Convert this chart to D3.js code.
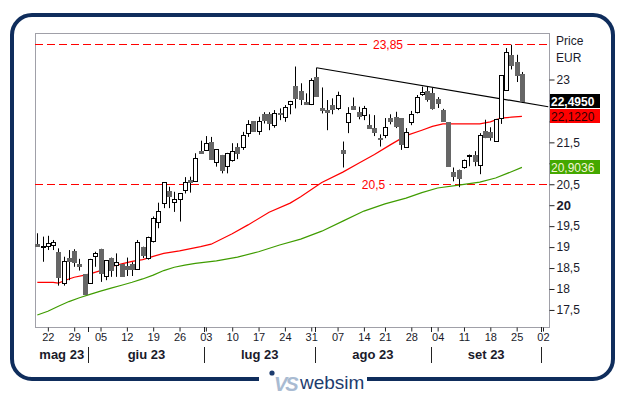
<!DOCTYPE html>
<html>
<head>
<meta charset="utf-8">
<script src="https://cdn.jsdelivr.net/npm/d3@7"></script>
<style>
body { margin: 0; background: #fff; }
text { font-family: "Liberation Sans", Arial, sans-serif; }
</style>
</head>
<body>
<div id="chart"></div>
<script>
// trading days (Borsa closed on 15 Aug)
var dates = ["05-18","05-19","05-22","05-23","05-24","05-25","05-26","05-29","05-30","05-31",
  "06-01","06-02","06-05","06-06","06-07","06-08","06-09","06-12","06-13","06-14","06-15","06-16",
  "06-19","06-20","06-21","06-22","06-23","06-26","06-27","06-28","06-29","06-30",
  "07-03","07-04","07-05","07-06","07-07","07-10","07-11","07-12","07-13","07-14",
  "07-17","07-18","07-19","07-20","07-21","07-24","07-25","07-26","07-27","07-28","07-31",
  "08-01","08-02","08-03","08-04","08-07","08-08","08-09","08-10","08-11","08-14","08-16","08-17","08-18",
  "08-21","08-22","08-23","08-24","08-25","08-28","08-29","08-30","08-31",
  "09-01","09-04","09-05","09-06","09-07","09-08","09-11","09-12","09-13","09-14","09-15",
  "09-18","09-19","09-20","09-21","09-22","09-25","09-26"];
var futureDates = ["09-27","09-28","09-29","10-02","10-03"];

var open = [19.07,19.02,19.01,19.03,18.89,18.14,18.75,18.91,18.60,18.35,
  18.14,18.79,18.96,18.32,18.73,18.57,18.59,18.55,18.60,18.49,19.01,18.72,
  19.13,19.61,20.06,20.34,20.08,20.14,20.38,20.60,20.56,21.29,
  21.32,21.52,21.01,21.20,20.94,21.08,21.40,21.40,21.72,22.01,
  21.77,22.17,22.17,21.90,22.21,22.11,22.41,22.84,22.73,22.47,22.41,
  23.07,22.32,22.27,22.39,22.31,21.32,21.97,22.37,22.23,22.15,21.91,21.85,21.61,
  21.69,22.07,22.11,22.07,21.40,21.99,22.23,22.67,22.72,
  22.68,22.53,22.28,21.98,20.79,20.85,20.93,21.17,21.19,20.97,21.78,
  21.74,21.54,22.08,22.76,23.59,23.42,23.13];
var high = [19.33,19.25,19.27,19.17,18.97,18.77,18.93,18.95,18.72,18.35,
  18.72,18.89,18.96,18.69,18.75,18.85,18.59,18.75,18.64,19.17,19.01,19.25,
  19.73,20.06,20.55,20.44,20.32,20.28,20.67,20.68,21.24,21.54,
  21.65,21.63,21.33,21.20,21.25,21.48,21.48,21.75,22.03,22.01,
  22.11,22.22,22.22,22.27,22.31,22.39,22.49,23.31,22.91,22.67,23.03,
  23.28,22.81,22.51,22.55,22.71,21.52,22.34,22.57,22.35,22.37,22.17,22.15,21.69,
  22.08,22.17,22.23,22.07,21.84,22.25,22.63,22.83,22.84,
  22.80,22.58,22.30,21.98,20.90,20.85,21.09,21.21,21.29,21.72,22.04,
  21.86,22.06,23.10,23.75,23.83,23.59,23.18];
var low = [19.02,18.65,18.93,18.93,18.08,18.08,18.21,18.53,18.44,17.86,
  18.12,18.53,18.17,18.21,18.29,18.29,18.29,18.31,18.31,18.49,18.74,18.70,
  19.11,19.45,19.93,19.93,19.84,19.61,20.28,20.30,20.56,21.25,
  21.32,21.12,20.92,20.76,20.76,21.04,21.10,21.32,21.63,21.77,
  21.68,21.95,21.79,21.85,22.03,21.99,22.17,22.31,22.39,22.41,22.39,
  22.61,22.19,21.79,22.17,22.27,20.90,21.72,22.29,22.05,22.03,21.82,21.65,21.40,
  21.60,21.93,21.84,21.32,21.40,21.91,22.19,22.61,22.47,
  22.28,22.32,22.00,20.93,20.57,20.43,20.87,20.93,20.93,20.74,21.60,
  21.54,21.53,21.94,22.76,23.24,22.94,22.44];
var close = [19.03,19.03,19.09,19.11,18.29,18.67,18.67,18.65,18.55,17.87,
  18.72,18.87,18.39,18.69,18.45,18.64,18.31,18.49,18.48,19.13,18.81,19.23,
  19.69,19.87,20.55,20.22,20.14,20.28,20.56,20.56,21.12,21.25,
  21.48,21.12,21.33,20.84,21.25,21.29,21.26,21.68,21.93,21.77,
  22.01,22.03,21.95,22.19,22.18,22.35,22.49,22.55,22.55,22.42,22.99,
  22.61,22.28,22.23,22.29,22.63,21.26,22.19,22.31,22.13,22.31,21.84,21.75,21.60,
  21.87,21.99,21.90,21.44,21.75,22.17,22.59,22.71,22.52,
  22.32,22.44,22.02,20.93,20.69,20.65,21.09,21.19,21.05,21.68,21.64,
  21.62,22.06,23.10,23.66,23.34,23.10,22.495];

// moving averages
var maRedDates = ["05-18","05-23","05-24","05-25","05-26","05-29","05-31","06-01","06-05","06-07",
  "06-09","06-13","06-15","06-19","06-21","06-26","06-30","07-04","07-10","07-13","07-19","07-25",
  "07-27","08-02","08-08","08-11","08-17","08-22","08-25","08-30","09-01","09-05","09-08","09-14",
  "09-18","09-20","09-22","09-26"];
var maRed = [18.16,18.16,18.14,18.19,18.24,18.28,18.33,18.36,18.44,18.53,
  18.60,18.66,18.70,18.78,18.85,18.91,19.01,19.07,19.32,19.53,19.83,20.05,
  20.20,20.54,20.79,21.00,21.21,21.44,21.66,21.79,21.88,21.94,21.94,21.94,
  21.99,22.08,22.10,22.122];
var maGreenDates = ["05-18","05-22","05-24","05-26","05-30","06-01","06-05","06-07","06-09","06-13",
  "06-15","06-19","06-21","06-23","06-27","06-29","07-05","07-11","07-17","07-21","07-27","08-02",
  "08-08","08-14","08-21","08-25","08-30","09-04","09-08","09-14","09-19","09-22","09-26"];
var maGreen = [17.38,17.47,17.59,17.70,17.79,17.87,17.95,18.02,18.09,18.16,
  18.24,18.33,18.44,18.52,18.57,18.61,18.67,18.76,18.89,19.05,19.19,19.38,
  19.62,19.86,20.03,20.17,20.30,20.41,20.48,20.55,20.65,20.80,20.9036];

var trendDates = ["08-01","10-03"];
var trendValues = [23.28, 22.35];
var levels = [23.85, 20.5];
var levelLabels = ["23,85", "20,5"];
var lastValues = [22.4950, 22.1220, 20.9036];
var lastLabels = ["22,4950", "22,1220", "20,9036"];

var yTicks = [17.5, 18, 18.5, 19, 19.5, 20, 20.5, 21, 21.5, 22, 22.5, 23];
var dayTicks = ["05-22","05-29","06-05","06-12","06-19","06-26","07-03","07-10","07-17","07-24","07-31",
  "08-07","08-14","08-21","08-28","09-04","09-11","09-18","09-25","10-02"];
var monthStarts = ["06-01","07-03","08-01","09-01","10-02"];
var monthNames = ["mag 23","giu 23","lug 23","ago 23","set 23"];

var W = 629, H = 395;
var plot = {left: 35, right: 549, top: 33, bottom: 327};
var allDates = dates.concat(futureDates);
function idx(d) { return allDates.indexOf(d); }

var svg = d3.select("#chart").append("svg")
    .attr("width", W)
    .attr("height", H);

var x = d3.scaleLinear().domain([-0.44, 97.14]).range([plot.left, plot.right]);
var y = d3.scaleLinear().domain([17.093, 24.11]).range([plot.bottom, plot.top]);

svg.append("clipPath").attr("id", "clip")
  .append("rect")
    .attr("x", plot.left).attr("y", plot.top)
    .attr("width", plot.right - plot.left).attr("height", plot.bottom - plot.top);

// outer frame
svg.append("rect")
    .attr("x", 12).attr("y", 15)
    .attr("width", 601).attr("height", 364)
    .attr("rx", 20)
    .attr("fill", "none")
    .attr("stroke", "#0f2d5c")
    .attr("stroke-width", 4);

// plot border
svg.append("rect")
    .attr("x", plot.left + 0.5).attr("y", plot.top + 0.5)
    .attr("width", plot.right - plot.left).attr("height", plot.bottom - plot.top)
    .attr("fill", "#fff")
    .attr("stroke", "#a0a0a8");

// last value boxes sit over the axis, work out where first
var boxY = lastValues.map(function(v) { return y(v); });
boxY[1] = Math.max(boxY[1], boxY[0] + 15);
function underBox(v) {
  return boxY.some(function(b) { return Math.abs(y(v) - b) < 11; });
}

// y axis on the right
var yAxis = d3.axisRight(y)
    .tickValues(yTicks)
    .tickSize(5)
    .tickPadding(2)
    .tickFormat(function(d) { return underBox(d) ? "" : String(d).replace(".", ","); });
var gy = svg.append("g")
    .attr("transform", "translate(" + (plot.right + 0.5) + ",0)")
    .call(yAxis);
gy.select(".domain").remove();
gy.selectAll("line").attr("stroke", "#222");
gy.selectAll("text")
    .attr("fill", "#1a1a2a")
    .attr("font-weight", function(d) { return d === 20 ? "bold" : null; })
    .attr("font-size", function(d) { return d === 20 ? 13 : 12; });

svg.append("text").attr("x", 556).attr("y", 45).attr("font-size", 12).attr("fill", "#1a1a2a").text("Price");
svg.append("text").attr("x", 556).attr("y", 62).attr("font-size", 12).attr("fill", "#1a1a2a").text("EUR");

// x axis: day ticks
var xAxis = d3.axisBottom(x)
    .tickValues(dayTicks.map(idx))
    .tickSize(4)
    .tickPadding(2)
    .tickFormat(function(i) { return allDates[i].slice(3); });
var gx = svg.append("g")
    .attr("transform", "translate(0," + (plot.bottom + 0.5) + ")")
    .call(xAxis);
gx.select(".domain").remove();
gx.selectAll("line").attr("stroke", "#222");
gx.selectAll("text").attr("font-size", 11).attr("fill", "#1a1a2a");

// month separators and labels
var mPos = [plot.left].concat(monthStarts.map(function(d) { return x(idx(d)) - 1.5; }));
svg.selectAll(".msep")
  .data(monthStarts)
  .enter().append("g")
  .each(function(d) {
    var px = Math.round(x(idx(d)) - 1.5) + 0.5;
    d3.select(this).append("line")
        .attr("x1", px).attr("x2", px).attr("y1", plot.bottom).attr("y2", plot.bottom + 5)
        .attr("stroke", "#222");
    d3.select(this).append("line")
        .attr("x1", px).attr("x2", px).attr("y1", 347).attr("y2", 363)
        .attr("stroke", "#222");
  });
svg.selectAll(".mlab")
  .data(monthNames)
  .enter().append("text")
    .attr("x", function(d, i) { return (mPos[i] + mPos[i + 1]) / 2; })
    .attr("y", 359)
    .attr("text-anchor", "middle")
    .attr("font-size", 13)
    .attr("font-weight", "bold")
    .attr("fill", "#1a1a2a")
    .text(function(d) { return d; });

var plotG = svg.append("g").attr("clip-path", "url(#clip)");

// horizontal levels
var levelLabelX = [388, 373.5];
levels.forEach(function(v, k) {
  var py = Math.round(y(v)) + 0.5;
  plotG.append("line")
      .attr("x1", plot.left).attr("x2", plot.right)
      .attr("y1", py).attr("y2", py)
      .attr("stroke", "#ff0000")
      .attr("stroke-width", 1.2)
      .attr("stroke-dasharray", "8,4");
  var t = plotG.append("text")
      .attr("x", levelLabelX[k]).attr("y", py + 4)
      .attr("text-anchor", "middle")
      .attr("font-size", 12)
      .attr("fill", "#ff0000")
      .text(levelLabels[k]);
  var bb = t.node().getBBox();
  plotG.insert("rect", "text:last-child")
      .attr("x", bb.x - 4).attr("y", bb.y)
      .attr("width", bb.width + 8).attr("height", bb.height)
      .attr("fill", "#fff");
});

// moving averages
var maLine = d3.line()
    .x(function(d) { return x(idx(d[0])); })
    .y(function(d) { return y(d[1]); });
plotG.append("path")
    .datum(d3.zip(maGreenDates, maGreen))
    .attr("fill", "none")
    .attr("stroke", "#3f9c00")
    .attr("stroke-width", 1.2)
    .attr("d", maLine);
plotG.append("path")
    .datum(d3.zip(maRedDates, maRed))
    .attr("fill", "none")
    .attr("stroke", "#ff0000")
    .attr("stroke-width", 1.2)
    .attr("d", maLine);

// trend line
plotG.append("path")
    .datum(d3.zip(trendDates, trendValues))
    .attr("fill", "none")
    .attr("stroke", "#000")
    .attr("stroke-width", 1.2)
    .attr("d", maLine);

// candles
var candles = dates.map(function(d, i) {
  return {i: i, o: open[i], h: high[i], l: low[i], c: close[i]};
});
var cg = plotG.selectAll(".candle")
  .data(candles)
  .enter().append("g")
    .attr("class", "candle");
cg.append("line")
    .attr("x1", function(d) { return Math.round(x(d.i)) + 0.5; })
    .attr("x2", function(d) { return Math.round(x(d.i)) + 0.5; })
    .attr("y1", function(d) { return y(d.h); })
    .attr("y2", function(d) { return y(d.l); })
    .attr("stroke", "#000");
cg.append("rect")
    .attr("x", function(d) { return Math.round(x(d.i)) - 1.5; })
    .attr("y", function(d) { return Math.round(y(Math.max(d.o, d.c))) + 0.5; })
    .attr("width", 4)
    .attr("height", function(d) { return Math.max(1, Math.round(Math.abs(y(d.o) - y(d.c)))); })
    .attr("fill", function(d) { return d.c >= d.o ? "#fff" : "#666"; })
    .attr("stroke", function(d) { return d.c >= d.o ? "#000" : "#666"; });

// last value boxes
var boxFill = ["#000", "#ff0000", "#44a800"];
var boxText = ["#fff", "#300", "#f4f4d8"];
var boxWeight = ["bold", null, null];
lastValues.forEach(function(v, k) {
  var top = Math.round(boxY[k] - 7);
  svg.append("rect")
      .attr("x", 550).attr("y", top)
      .attr("width", 50).attr("height", 14)
      .attr("fill", boxFill[k]);
  svg.append("text")
      .attr("x", 551).attr("y", top + 11.5)
      .attr("font-size", 12)
      .attr("font-weight", boxWeight[k])
      .attr("fill", boxText[k])
      .text(lastLabels[k]);
});

// websim logo on the frame
svg.append("rect").attr("x", 259).attr("y", 372).attr("width", 108).attr("height", 14).attr("fill", "#fff");
svg.append("circle").attr("cx", 272).attr("cy", 373).attr("r", 2.6).attr("fill", "#1d3c6e");
svg.append("text")
    .attr("x", 274).attr("y", 391)
    .attr("font-size", 20)
    .attr("font-style", "italic")
    .attr("font-weight", "bold")
    .attr("fill", "#a9bbd2")
    .attr("letter-spacing", -2)
    .text("VS");
svg.append("text")
    .attr("x", 300).attr("y", 389)
    .attr("font-size", 19)
    .attr("fill", "#1d3c6e")
    .text("websim");
</script>
</body>
</html>
